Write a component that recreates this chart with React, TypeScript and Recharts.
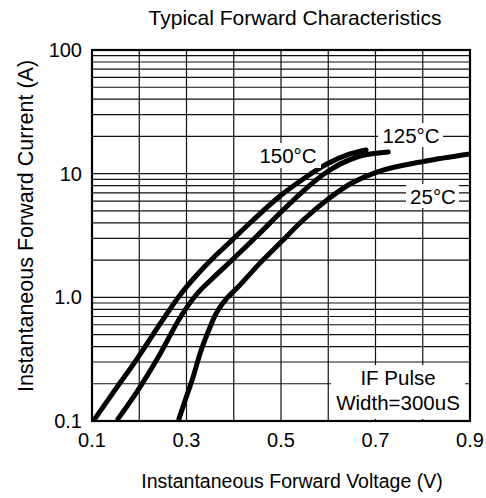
import React from "react";
import { LineChart, Line, XAxis, YAxis, ReferenceLine } from "recharts";

// Forward voltage (V) and current (A)
const v150 = [0.106, 0.144, 0.195, 0.244, 0.286, 0.318, 0.35, 0.392, 0.441, 0.498, 0.547, 0.597, 0.646, 0.68];
const i150 = [0.104, 0.168, 0.317, 0.609, 1.04, 1.46, 1.97, 2.8, 4.22, 6.6, 9.06, 11.97, 14.43, 15.54];

const v125 = [0.155, 0.195, 0.244, 0.286, 0.322, 0.356, 0.392, 0.449, 0.498, 0.547, 0.597, 0.661, 0.727];
const i125 = [0.104, 0.172, 0.348, 0.681, 1.064, 1.433, 1.93, 3.13, 4.81, 7.24, 10.31, 13.64, 14.97];

const v25 = [0.284, 0.299, 0.314, 0.329, 0.35, 0.36, 0.371, 0.386, 0.407, 0.456, 0.498, 0.547, 0.6, 0.646, 0.703, 0.801, 0.9];
const i25 = [0.104, 0.154, 0.227, 0.355, 0.576, 0.707, 0.835, 0.988, 1.19, 1.9, 2.75, 4.22, 6.24, 8.25, 10.31, 12.54, 14.43];

const xTicks = [0.1, 0.3, 0.5, 0.7, 0.9];
const xGrid = [0.2, 0.3, 0.4, 0.5, 0.6, 0.7, 0.8];
const yTicks = [0.1, 1, 10, 100];
const yTickLabels = ["0.1", "1.0", "10", "100"];
const yGrid = [0.1, 1, 10].flatMap((d) => [2, 3, 4, 5, 6, 7, 8, 9].map((k) => +(k * d).toPrecision(3))).concat([1, 10]);

const toData = (vs: number[], is: number[]) => vs.map((v, k) => ({ v, i: is[k] }));
const d150 = toData(v150, i150);
const d125 = toData(v125, i125);
const d25 = toData(v25, i25);

const FONT = "'Liberation Sans', Arial, sans-serif";

export default function App() {
  return (
    <div style={{ position: "absolute", left: 0, top: 0, width: 486, height: 498, background: "#fff" }}>
      <LineChart width={486} height={498} margin={{ top: 50, right: 16, bottom: 17, left: 32 }}>
        <XAxis
          type="number"
          dataKey="v"
          domain={[0.1, 0.9]}
          ticks={xTicks}
          height={60}
          axisLine={false}
          tickLine={false}
          tickMargin={6}
          allowDataOverflow
          tick={{ fill: "#000", fontSize: 20, fontFamily: FONT }}
          tickFormatter={(t: number) => t.toFixed(1)}
        />
        <YAxis
          type="number"
          scale="log"
          domain={[0.1, 100]}
          ticks={yTicks}
          width={60}
          axisLine={false}
          tickLine={false}
          tickMargin={4}
          allowDataOverflow
          tick={{ fill: "#000", fontSize: 20, fontFamily: FONT }}
          tickFormatter={(t: number) => yTickLabels[yTicks.indexOf(t)] ?? String(t)}
        />
        {yGrid.map((g) => (
          <ReferenceLine key={"h" + g} y={g} stroke="#111" strokeWidth={1.2} />
        ))}
        {xGrid.map((g) => (
          <ReferenceLine key={"v" + g} x={g} stroke="#111" strokeWidth={1.2} />
        ))}
        <Line data={d150} dataKey="i" type="monotone" stroke="#000" strokeWidth={5} dot={false} strokeLinecap="round" isAnimationActive={false} />
        <Line data={d125} dataKey="i" type="monotone" stroke="#000" strokeWidth={5} dot={false} strokeLinecap="round" isAnimationActive={false} />
        <Line data={d25} dataKey="i" type="monotone" stroke="#000" strokeWidth={5} dot={false} strokeLinecap="round" isAnimationActive={false} />
      </LineChart>
      <svg width={486} height={498} style={{ position: "absolute", left: 0, top: 0, pointerEvents: "none" }} fontFamily={FONT}>
        <rect x={92} y={50} width={378} height={371} fill="none" stroke="#000" strokeWidth={2.2} />
        <text x={295} y={25} textAnchor="middle" fontSize={21} fill="#000">Typical Forward Characteristics</text>
        <text x={292} y={488} textAnchor="middle" fontSize={19.5} fill="#000">Instantaneous Forward Voltage (V)</text>
        <text x={33} y={226} textAnchor="middle" fontSize={21.5} fill="#000" transform="rotate(-90 33 226)">Instantaneous Forward Current (A)</text>

        <rect x={255} y={143} width={66} height={25} fill="#fff" />
        <text x={288} y={162.5} textAnchor="middle" fontSize={20.5} fill="#000">150°C</text>

        <rect x={378} y={123} width={65} height={24} fill="#fff" />
        <text x={411} y={142.5} textAnchor="middle" fontSize={20.5} fill="#000">125°C</text>

        <rect x={406} y={184} width={53} height={24} fill="#fff" />
        <text x={433} y={204} textAnchor="middle" fontSize={20.5} fill="#000">25°C</text>

        <rect x={331} y={365} width={134} height={54} fill="#fff" />
        <text x={398} y={385} textAnchor="middle" fontSize={20.5} fill="#000">IF Pulse</text>
        <text x={398} y={410} textAnchor="middle" fontSize={20.5} fill="#000">Width=300uS</text>
      </svg>
    </div>
  );
}
